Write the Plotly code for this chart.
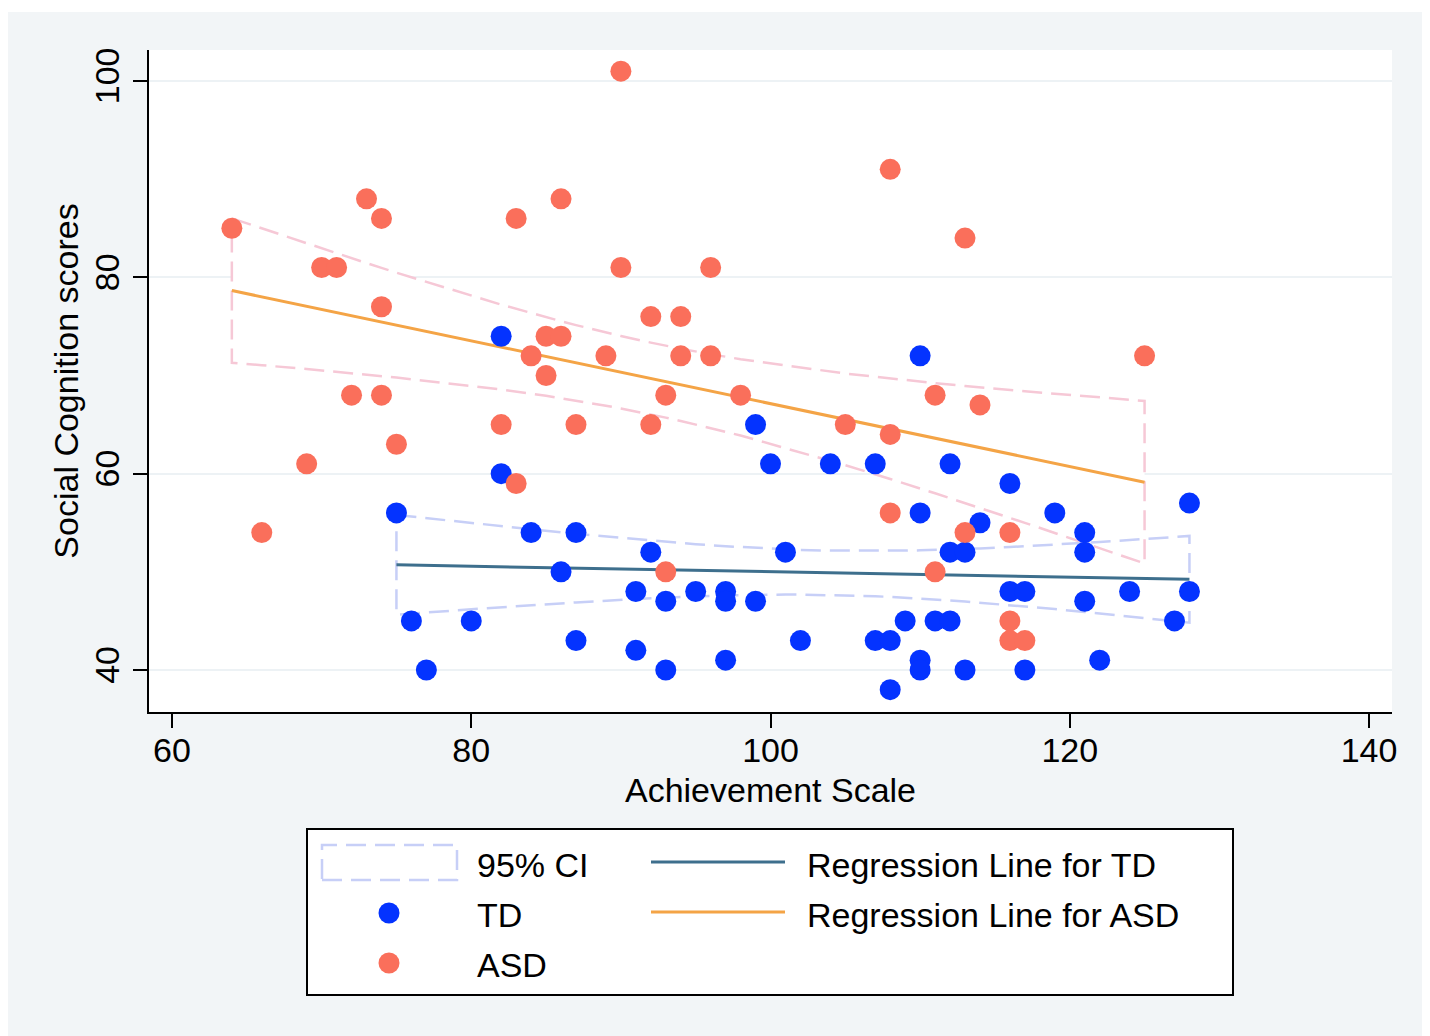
import numpy as np
import plotly.graph_objects as go

# ---------------- data ----------------
td_x = [75, 76, 77, 80, 82, 82, 84, 86, 87, 87, 91, 91, 92, 93, 93, 95, 97, 97, 97,
        99, 99, 100, 101, 102, 104, 107, 107, 108, 108, 109, 110, 110, 110, 110, 111,
        112, 112, 112, 113, 113, 114, 116, 116, 117, 117, 119, 121, 121, 121, 122,
        124, 127, 128, 128]
td_y = [56, 45, 40, 45, 74, 60, 54, 50, 54, 43, 48, 42, 52, 47, 40, 48, 48, 47, 41,
        65, 47, 61, 52, 43, 61, 61, 43, 43, 38, 45, 72, 56, 41, 40, 45,
        61, 52, 45, 52, 40, 55, 59, 48, 48, 40, 56, 54, 52, 47, 41,
        48, 45, 57, 48]

asd_x = [64, 66, 69, 70, 71, 72, 73, 74, 74, 74, 75, 82, 83, 83, 84, 85, 85, 86, 86,
         87, 89, 90, 90, 92, 92, 93, 93, 94, 94, 96, 96, 98, 105, 108, 108, 108,
         111, 111, 113, 113, 114, 116, 116, 116, 117, 125]
asd_y = [85, 54, 61, 81, 81, 68, 88, 86, 77, 68, 63, 65, 86, 59, 72, 74, 70, 88, 74,
         65, 72, 101, 81, 76, 65, 68, 50, 76, 72, 81, 72, 68, 65, 91, 64, 56,
         68, 50, 84, 54, 67, 54, 45, 43, 43, 72]

x_ticks = [60, 80, 100, 120, 140]
y_ticks = [40, 60, 80, 100]
x_title = "Achievement Scale"
y_title = "Social Cognition scores"
legend_labels = ["95% CI", "TD", "ASD", "Regression Line for TD", "Regression Line for ASD"]

# two-sided 95% t critical values for df = n - 2
T_CRIT = {44: 2.0154, 52: 2.0067}

# ---------------- styles ----------------
FONT = "Liberation Sans, Arial, Helvetica, sans-serif"
FS = 34
C_TD = "#0433ff"
C_ASD = "#fa6f5b"
C_TD_LINE = "#3e6f8d"
C_ASD_LINE = "#f4a446"
C_TD_CI = "#c7cff7"
C_ASD_CI = "#f6c8d6"
BG = "#f2f5f7"
OFF = 8                       # page offset of the figure (body margin)
W, H = 1430 - OFF, 1036 - OFF
# plot area in page pixels
PL, PR, PT, PB = 149, 1392, 50, 712
L, R, T, B = PL - OFF, PR - OFF, PT - OFF, PB - OFF


def fit(xs, ys):
    x = np.asarray(xs, float)
    y = np.asarray(ys, float)
    n = len(x)
    b, a = np.polyfit(x, y, 1)
    resid = y - (a + b * x)
    s = np.sqrt(np.sum(resid ** 2) / (n - 2))
    sxx = np.sum((x - x.mean()) ** 2)
    g = np.unique(x)
    yh = a + b * g
    se = s * np.sqrt(1.0 / n + (g - x.mean()) ** 2 / sxx)
    t = T_CRIT[n - 2]
    return g, yh, yh - t * se, yh + t * se


fig = go.Figure()

fits = {"ASD": fit(asd_x, asd_y), "TD": fit(td_x, td_y)}
ci_col = {"ASD": C_ASD_CI, "TD": C_TD_CI}
line_col = {"ASD": C_ASD_LINE, "TD": C_TD_LINE}

# CI fills (white), then dashed outlines
for k in ["ASD", "TD"]:
    g, yh, lo, hi = fits[k]
    px = list(g) + list(g[::-1]) + [g[0]]
    py = list(hi) + list(lo[::-1]) + [hi[0]]
    fig.add_trace(go.Scatter(x=px, y=py, mode="lines", fill="toself", fillcolor="white",
                             line=dict(width=0, color="white"), hoverinfo="skip",
                             showlegend=False))
for k in ["ASD", "TD"]:
    g, yh, lo, hi = fits[k]
    px = list(g) + list(g[::-1]) + [g[0]]
    py = list(hi) + list(lo[::-1]) + [hi[0]]
    fig.add_trace(go.Scatter(x=px, y=py, mode="lines",
                             line=dict(width=2.5, color=ci_col[k], dash="20px,9px"),
                             hoverinfo="skip", showlegend=False))
# regression lines
for k in ["TD", "ASD"]:
    g, yh, lo, hi = fits[k]
    fig.add_trace(go.Scatter(x=[g[0], g[-1]], y=[yh[0], yh[-1]], mode="lines",
                             line=dict(width=3, color=line_col[k]), showlegend=False))
# markers
fig.add_trace(go.Scatter(x=td_x, y=td_y, mode="markers", name="TD",
                         marker=dict(size=21, color=C_TD, line=dict(width=0)),
                         showlegend=False))
fig.add_trace(go.Scatter(x=asd_x, y=asd_y, mode="markers", name="ASD",
                         marker=dict(size=21, color=C_ASD, line=dict(width=0)),
                         showlegend=False))

# axis ranges from pixel calibration (page pixels)
xppu = (1369 - 172) / 80.0
yppu = (670 - 81) / 60.0
x_range = [60 - (172 - PL) / xppu, 140 + (PR - 1369) / xppu]
y_range = [40 - (PB - 670) / yppu, 100 + (81 - PT) / yppu]


def px2paper(px, py):
    """page pixel -> paper coordinates"""
    return (px - PL) / (PR - PL), (PB - py) / (PB - PT)


shapes = []
# thin white strip at the top of the image
shapes.append(dict(type="rect", xref="paper", yref="paper", layer="below",
                   x0=px2paper(0, 0)[0], x1=px2paper(1500, 0)[0],
                   y0=px2paper(0, 12)[1], y1=px2paper(0, 0)[1],
                   fillcolor="white", line=dict(width=0)))
# legend box
lx0, ly0 = px2paper(307, 829)
lx1, ly1 = px2paper(1233, 995)
shapes.append(dict(type="rect", xref="paper", yref="paper", x0=lx0, x1=lx1, y0=ly1, y1=ly0,
                   fillcolor="white", line=dict(color="black", width=2)))
# CI symbol
cx0, cy0 = px2paper(322, 845)
cx1, cy1 = px2paper(457, 880)
shapes.append(dict(type="rect", xref="paper", yref="paper", x0=cx0, x1=cx1, y0=cy1, y1=cy0,
                   fillcolor="white", line=dict(color=C_TD_CI, width=2.5, dash="20px,9px")))
# marker symbols
for (py, col) in [(913, C_TD), (963, C_ASD)]:
    mx, my = px2paper(389, py)
    shapes.append(dict(type="circle", xref="paper", yref="paper", xsizemode="pixel",
                       ysizemode="pixel", xanchor=mx, yanchor=my,
                       x0=-10.5, x1=10.5, y0=-10.5, y1=10.5,
                       fillcolor=col, line=dict(width=0)))
# line symbols
for (py, col) in [(862, C_TD_LINE), (912, C_ASD_LINE)]:
    a0, b0 = px2paper(651, py)
    a1, b1 = px2paper(785, py)
    shapes.append(dict(type="line", xref="paper", yref="paper", x0=a0, x1=a1, y0=b0, y1=b1,
                       line=dict(color=col, width=3)))

annotations = []
for (txt, px, py) in [(legend_labels[0], 475, 865), (legend_labels[1], 475, 915),
                      (legend_labels[2], 475, 965), (legend_labels[3], 805, 865),
                      (legend_labels[4], 805, 915)]:
    ax, ay = px2paper(px, py)
    annotations.append(dict(text=txt, x=ax, y=ay, xref="paper", yref="paper",
                            xanchor="left", yanchor="middle", showarrow=False,
                            font=dict(family=FONT, size=FS, color="black")))

fig.update_layout(
    width=W, height=H,
    margin=dict(l=L, r=W - R, t=T, b=H - B, pad=0),
    paper_bgcolor=BG, plot_bgcolor="white",
    font=dict(family=FONT, size=FS, color="black"),
    shapes=shapes, annotations=annotations,
    showlegend=False,
    xaxis=dict(range=x_range, tickvals=x_ticks, ticks="outside", ticklen=14, tickwidth=2,
               tickcolor="black", showline=True, linecolor="black", linewidth=2,
               showgrid=False, zeroline=False, mirror=False,
               tickfont=dict(size=FS), ticklabelstandoff=-7,
               title=dict(text=x_title, font=dict(size=FS), standoff=10)),
    yaxis=dict(range=y_range, tickvals=y_ticks, ticks="outside", ticklen=14, tickwidth=2,
               tickcolor="black", showline=True, linecolor="black", linewidth=2,
               showgrid=True, gridcolor="#edf2f5", gridwidth=2, zeroline=False,
               tickangle=-90, tickfont=dict(size=FS), ticklabelstandoff=0,
               title=dict(text=y_title, font=dict(size=FS), standoff=0)),
)

fig.write_html("out.html")
